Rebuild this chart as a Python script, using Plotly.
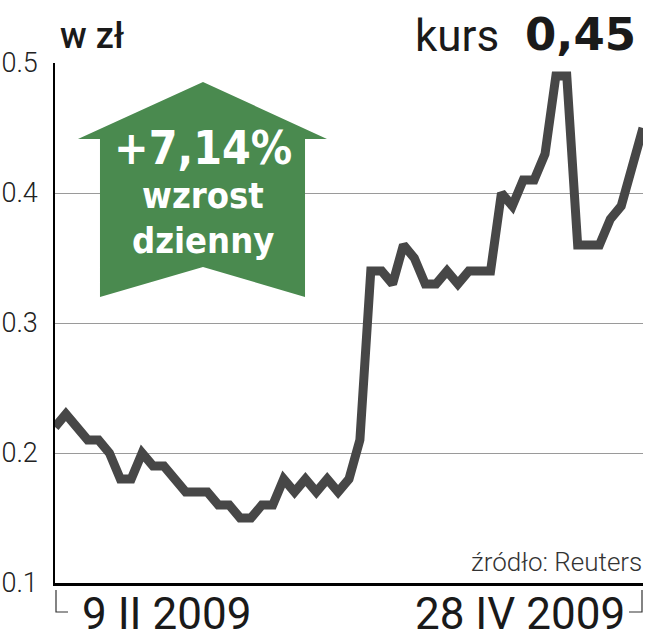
import plotly.graph_objects as go

# kurs zamkniecia, sesje od 9 II 2009 do 28 IV 2009
day_idx = list(range(55))
kurs = [0.22, 0.23, 0.22, 0.21, 0.21, 0.20, 0.18, 0.18, 0.20, 0.19,
        0.19, 0.18, 0.17, 0.17, 0.17, 0.16, 0.16, 0.15, 0.15, 0.16,
        0.16, 0.18, 0.17, 0.18, 0.17, 0.18, 0.17, 0.18, 0.21, 0.34,
        0.34, 0.33, 0.36, 0.35, 0.33, 0.33, 0.34, 0.33, 0.34, 0.34,
        0.34, 0.40, 0.39, 0.41, 0.41, 0.43, 0.49, 0.49, 0.36, 0.36,
        0.36, 0.38, 0.39, 0.42, 0.45]
y_ticks = [0.1, 0.2, 0.3, 0.4, 0.5]
date_labels = ['9 II 2009', '28 IV 2009']

W, H = 647, 640
# obszar wykresu w pikselach strony
X0, X1, Y0, Y1 = 55, 643, 63, 583
pw, ph = X1 - X0, Y1 - Y0


def px(x):
    return (x - X0) / pw


def py(y):
    return (Y1 - y) / ph


fig = go.Figure()

fig.add_trace(
    go.Scatter(
        x=day_idx,
        y=kurs,
        mode='lines',
        line=dict(color='#474747', width=9),
        hoverinfo='skip'
    )
)

# zielona strzalka
arrow = [(203, 82), (327, 139), (305, 139), (305, 297), (203, 267),
         (100, 297), (100, 139), (78, 139)]
path = 'M ' + ' L '.join(f'{px(a):.4f},{py(b):.4f}' for a, b in arrow) + ' Z'
fig.add_shape(type='path', path=path, xref='paper', yref='paper',
              fillcolor='#4a8a4f', line=dict(width=0), layer='above')

for txt, yy, size in [('+7,14%', 148, 46), ('wzrost', 195, 36), ('dzienny', 240, 36)]:
    fig.add_annotation(text=f'<b>{txt}</b>', x=px(203), y=py(yy), xref='paper', yref='paper',
                       showarrow=False, xanchor='center', yanchor='middle',
                       font=dict(family='DejaVu Sans Condensed', size=size, color='white'))

# naglowki
fig.add_annotation(text='w zł', x=px(58), y=py(36), xref='paper', yref='paper',
                   showarrow=False, xanchor='left', yanchor='middle',
                   font=dict(family='Roboto', size=36, color='#1a1a1a', weight=500))
fig.add_annotation(text='kurs', x=px(501), y=py(36), xref='paper', yref='paper',
                   showarrow=False, xanchor='right', yanchor='middle',
                   font=dict(family='Roboto', size=44, color='#1a1a1a'))
fig.add_annotation(text='<b>' + f'{kurs[-1]:.2f}'.replace('.', ',') + '</b>',
                   x=px(638), y=py(35), xref='paper', yref='paper',
                   showarrow=False, xanchor='right', yanchor='middle',
                   font=dict(family='DejaVu Sans', size=45, color='#1a1a1a'))
fig.add_annotation(text='źródło: Reuters', x=px(644), y=py(562), xref='paper', yref='paper',
                   showarrow=False, xanchor='right', yanchor='middle',
                   font=dict(family='Roboto', size=26, color='#333333', weight=300))

# daty pod osia
fig.add_annotation(text=date_labels[0], x=px(80), y=py(614), xref='paper', yref='paper',
                   showarrow=False, xanchor='left', yanchor='middle',
                   font=dict(family='Roboto', size=44, color='#1a1a1a'))
fig.add_annotation(text=date_labels[1], x=px(627), y=py(614), xref='paper', yref='paper',
                   showarrow=False, xanchor='right', yanchor='middle',
                   font=dict(family='Roboto', size=44, color='#1a1a1a'))

for pts in [[(56, 590), (56, 612), (68, 612)], [(629, 612), (642, 612), (642, 590)]]:
    p = 'M ' + ' L '.join(f'{px(a):.4f},{py(b):.4f}' for a, b in pts)
    fig.add_shape(type='path', path=p, xref='paper', yref='paper',
                  line=dict(color='#333333', width=1.2))

fig.update_layout(
    width=W, height=H,
    margin=dict(l=X0, r=W - X1, t=Y0, b=H - Y1),
    paper_bgcolor='white', plot_bgcolor='white',
    showlegend=False,
    xaxis=dict(range=[0, len(kurs) - 1], showgrid=False, zeroline=False,
               showticklabels=False, ticks='', showline=True, automargin=False,
               linecolor='black', linewidth=3),
    yaxis=dict(range=[0.1, 0.5], tickvals=y_ticks, tickformat='.1f',
               showgrid=True, gridcolor='#9a9a9a', gridwidth=1, automargin=False,
               zeroline=False, showline=True, linecolor='black', linewidth=1.5,
               ticks='', ticklabelstandoff=10,
               tickfont=dict(family='Roboto', size=27, color='#222222', weight=300)),
)

# bez marginesu body, figura od lewego gornego rogu okna
fig.write_html('out.html', config={'displayModeBar': False},
               post_script="document.body.style.margin='0';")
